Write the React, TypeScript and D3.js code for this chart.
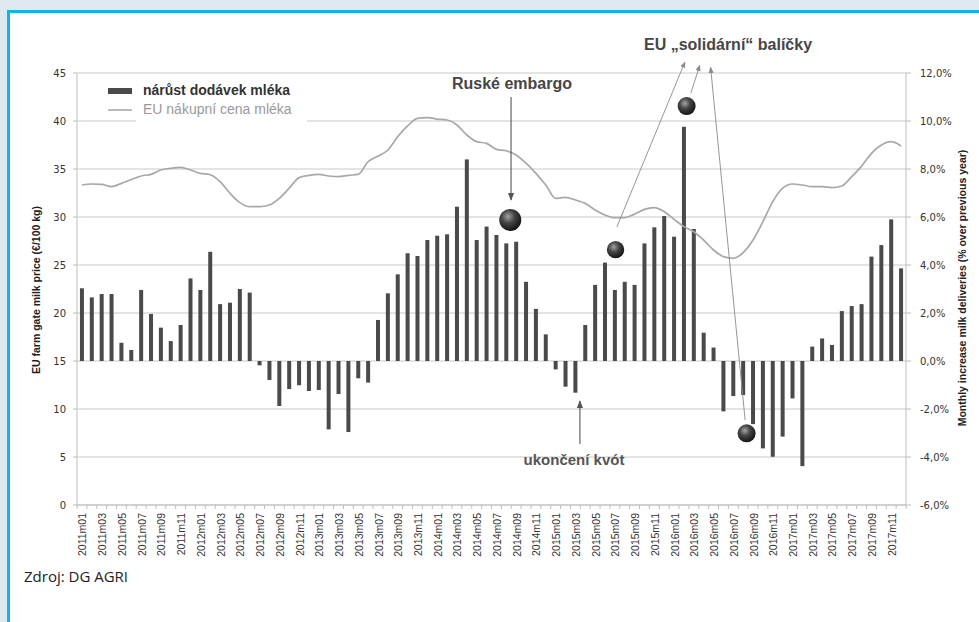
import React from "react";
import * as d3 from "d3";

// ---- data ----
const years = [2011, 2012, 2013, 2014, 2015, 2016, 2017];
const months = years.flatMap((y) => d3.range(1, 13).map((m) => `${y}m${String(m).padStart(2, "0")}`));

// monthly increase of milk deliveries, % over previous year (right axis)
const growth = [
  3.03, 2.65, 2.79, 2.79, 0.76, 0.46, 2.96, 1.96, 1.39, 0.83, 1.5, 3.44,
  2.96, 4.55, 2.37, 2.43, 3.0, 2.85, -0.18, -0.79, -1.875, -1.17, -1.01, -1.25,
  -1.21, -2.85, -1.375, -2.96, -0.72, -0.9, 1.71, 2.82, 3.61, 4.49, 4.375, 5.04,
  5.22, 5.28, 6.43, 8.4, 5.04, 5.6, 5.25, 4.9, 4.97, 3.3, 2.17, 1.11,
  -0.35, -1.07, -1.32, 1.5, 3.17, 4.1, 2.96, 3.3, 3.17, 4.9, 5.57, 6.04,
  5.18, 9.76, 5.5, 1.18, 0.56, -2.1, -1.46, -1.42, -2.63, -3.64, -3.99, -3.15,
  -1.56, -4.38, 0.6, 0.94, 0.67, 2.08, 2.29, 2.37, 4.35, 4.83, 5.9, 3.86,
];

// EU farm gate milk price, €/100 kg (left axis)
const price = [
  33.33, 33.44, 33.4, 33.16, 33.5, 33.9, 34.27, 34.44, 34.9, 35.07, 35.17, 34.9,
  34.55, 34.4, 33.68, 32.47, 31.5, 31.08, 31.08, 31.25, 31.94, 33.0, 34.1, 34.34,
  34.44, 34.27, 34.2, 34.34, 34.44, 35.76, 36.35, 36.98, 38.37, 39.48, 40.28, 40.35,
  40.2, 40.1, 39.58, 38.54, 37.85, 37.67, 37.05, 36.9, 36.46, 35.6, 34.55, 33.33,
  31.94, 32.05, 31.77, 31.42, 30.73, 30.2, 29.93, 29.93, 30.3, 30.8, 30.97, 30.55,
  29.76, 29.0, 28.47, 27.6, 26.56, 25.87, 25.7, 26.28, 27.6, 29.51, 31.6, 33.0,
  33.44, 33.33, 33.16, 33.16, 33.06, 33.23, 34.2, 35.3, 36.63, 37.5, 37.85, 37.4,
];

const leftTicks = [0, 5, 10, 15, 20, 25, 30, 35, 40, 45];
const rightTicks = [-6, -4, -2, 0, 2, 4, 6, 8, 10, 12];

// annotation markers: [month position (band units), left-axis value, radius]
const spherePos = [43.9, 54.57, 61.77, 67.85];
const sphereVal = [29.7, 26.6, 41.56, 7.47];
const sphereR = [11, 8.7, 9, 9];

// arrows: from (x1,v1) to (x2,v2) in (band units, left-axis value)
const arrowX1 = [43.98, 54.7, 62.2, 67.7, 50.96];
const arrowV1 = [42.5, 28.96, 42.9, 8.85, 6.35];
const arrowX2 = [43.98, 61.6, 63.1, 64.2, 50.96];
const arrowV2 = [31.77, 46.15, 45.8, 45.6, 10.83];
const arrowColor = ["#555", "#8a8a8a", "#8a8a8a", "#8a8a8a", "#555"];

const W = 979;
const H = 622;
const L = 77;
const R = 906;
const T = 73;
const B = 505;

export default function App() {
  const x = d3.scaleBand<string>().domain(months).range([L, R]).paddingInner(0).paddingOuter(0);
  const xl = d3.scaleLinear().domain([0, months.length]).range([L, R]);
  const yL = d3.scaleLinear().domain([0, 45]).range([B, T]);
  const yR = d3.scaleLinear().domain([-6, 12]).range([B, T]);
  const bw = x.bandwidth();
  const barW = 4;

  const line = d3
    .line<number>()
    .x((_, i) => (x(months[i]) as number) + bw / 2)
    .y((d) => yL(d))
    .curve(d3.curveMonotoneX);

  const fmtR = (v: number) => `${v.toFixed(1).replace(".", ",")}%`;
  const narrow = "'Liberation Sans Narrow', 'Liberation Sans', Arial, sans-serif";
  const sans = "'Liberation Sans', Arial, sans-serif";
  const tickFont = "'DejaVu Sans', Verdana, sans-serif";

  return (
    <svg width={W} height={H} style={{ position: "absolute", left: 0, top: 0, display: "block" }}>
      <defs>
        <radialGradient id="ball" cx="40%" cy="35%" r="65%">
          <stop offset="0%" stopColor="#a4a4a4" />
          <stop offset="45%" stopColor="#464646" />
          <stop offset="100%" stopColor="#141414" />
        </radialGradient>
        <marker id="ah" viewBox="0 0 10 10" refX="9" refY="5" markerWidth="7" markerHeight="7" orient="auto-start-reverse">
          <path d="M0,1 L10,5 L0,9 Z" fill="#555" />
        </marker>
        <marker id="ahl" viewBox="0 0 10 10" refX="9" refY="5" markerWidth="7" markerHeight="7" orient="auto-start-reverse">
          <path d="M0,1 L10,5 L0,9 Z" fill="#8a8a8a" />
        </marker>
      </defs>

      {/* page background and card */}
      <rect x={0} y={0} width={W} height={H} fill="#dde8ef" />
      <rect x={8.5} y={11.5} width={W + 20} height={H + 20} fill="#ffffff" stroke="#16b1ec" strokeWidth={3} />

      {/* grid */}
      {leftTicks.map((t) => (
        <line key={`g${t}`} x1={L} x2={R} y1={yL(t)} y2={yL(t)} stroke="#c9c9c9" strokeWidth={1} />
      ))}

      {/* axes */}
      <line x1={L} x2={L} y1={T} y2={B} stroke="#bdbdbd" />
      <line x1={R} x2={R} y1={T} y2={B} stroke="#bdbdbd" />
      <line x1={L} x2={R} y1={B} y2={B} stroke="#bdbdbd" />
      {leftTicks.map((t) => (
        <line key={`lt${t}`} x1={L - 4} x2={L} y1={yL(t)} y2={yL(t)} stroke="#bdbdbd" />
      ))}
      {rightTicks.map((t) => (
        <line key={`rt${t}`} x1={R} x2={R + 5} y1={yR(t)} y2={yR(t)} stroke="#bdbdbd" />
      ))}
      {months.map((m) => (
        <line key={`xt${m}`} x1={x(m) as number} x2={x(m) as number} y1={B} y2={B + 4} stroke="#bdbdbd" />
      ))}
      <line x1={R} x2={R} y1={B} y2={B + 4} stroke="#bdbdbd" />

      {/* tick labels */}
      {leftTicks.map((t) => (
        <text key={`ll${t}`} x={66} y={yL(t)} dy="0.35em" textAnchor="end" fontFamily={tickFont} fontSize={10} fill="#333">
          {t}
        </text>
      ))}
      {rightTicks.map((t) => (
        <text key={`rl${t}`} x={920} y={yR(t)} dy="0.35em" textAnchor="start" fontFamily={tickFont} fontSize={10} fill="#333">
          {fmtR(t)}
        </text>
      ))}
      {months.map((m, i) =>
        i % 2 === 0 ? (
          <text
            key={`xl${m}`}
            transform={`translate(${(x(m) as number) + bw / 2 + 0.5},${B + 8}) rotate(-90)`}
            textAnchor="end"
            dominantBaseline="central"
            fontFamily={narrow}
            fontSize={10.5}
            fill="#333"
          >
            {m}
          </text>
        ) : null
      )}

      {/* axis titles */}
      <text transform={`translate(40,290) rotate(-90)`} textAnchor="middle" fontFamily={narrow} fontWeight="bold" fontSize={10.5} fill="#222">
        EU farm gate milk price (€/100 kg)
      </text>
      <text transform={`translate(966,288) rotate(-90)`} textAnchor="middle" fontFamily={narrow} fontWeight="bold" fontSize={10.5} fill="#222">
        Monthly increase milk deliveries (% over previous year)
      </text>

      {/* bars */}
      {growth.map((g, i) => (
        <rect
          key={`b${i}`}
          x={(x(months[i]) as number) + bw / 2 - barW / 2}
          y={Math.min(yR(g), yR(0))}
          width={barW}
          height={Math.abs(yR(g) - yR(0))}
          fill="#4a4a4a"
        />
      ))}

      {/* price line */}
      <path d={line(price) || ""} fill="none" stroke="#a8a8a8" strokeWidth={1.7} />

      {/* legend */}
      <rect x={136} y={80} width={171} height={45} fill="#ffffff" />
      <rect x={108} y={88} width={24} height={6} fill="#4a4a4a" />
      <text x={143} y={95} fontFamily={sans} fontWeight="bold" fontSize={14} fill="#333">
        nárůst dodávek mléka
      </text>
      <line x1={108} x2={132} y1={110} y2={110} stroke="#a8a8a8" strokeWidth={1.6} />
      <text x={143} y={114} fontFamily={sans} fontSize={14} fill="#9a9a9a">
        EU nákupní cena mléka
      </text>

      {/* annotation arrows */}
      {arrowX1.map((ax, i) => (
        <line
          key={`a${i}`}
          x1={xl(ax)}
          y1={yL(arrowV1[i])}
          x2={xl(arrowX2[i])}
          y2={yL(arrowV2[i])}
          stroke={arrowColor[i]}
          strokeWidth={i === 0 || i === 4 ? 1.1 : 0.9}
          markerEnd={i === 0 || i === 4 ? "url(#ah)" : "url(#ahl)"}
        />
      ))}

      {/* spheres */}
      {spherePos.map((p, i) => (
        <circle key={`s${i}`} cx={xl(p)} cy={yL(sphereVal[i])} r={sphereR[i]} fill="url(#ball)" />
      ))}

      {/* annotation texts */}
      <text x={512} y={89} textAnchor="middle" fontFamily={sans} fontWeight="bold" fontSize={16} fill="#464646">
        Ruské embargo
      </text>
      <text x={728} y={50} textAnchor="middle" fontFamily={sans} fontWeight="bold" fontSize={16} fill="#464646">
        EU „solidární“ balíčky
      </text>
      <text x={574} y={465} textAnchor="middle" fontFamily={sans} fontWeight="bold" fontSize={15} fill="#555">
        ukončení kvót
      </text>

      {/* source */}
      <text x={24} y={582} fontFamily="'Open Sans', 'Noto Sans', sans-serif" fontSize={15} fill="#222">
        Zdroj: DG AGRI
      </text>
    </svg>
  );
}
